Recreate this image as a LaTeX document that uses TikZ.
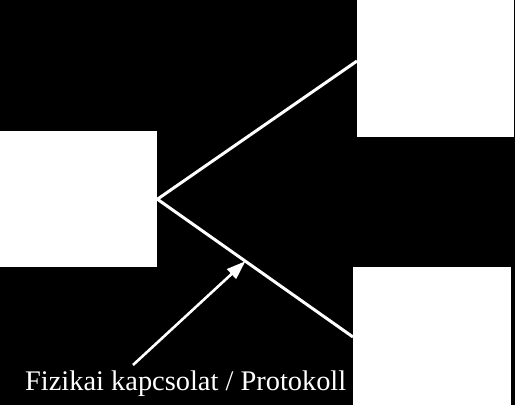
\documentclass[tikz,border=0pt]{standalone}
\usepackage{fontspec}
\setmainfont{Liberation Serif}
\usetikzlibrary{arrows.meta,calc}
\begin{document}
\begin{tikzpicture}[x=1pt,y=-1pt,
  box/.style={fill=white,draw=none,inner sep=0pt,anchor=north west},
  link/.style={draw=white,line width=3pt},
  pointer/.style={draw=white,line width=2.6pt,-{Triangle[length=19pt,width=13pt]}}]
\fill[black] (0,0) rectangle (515,405);
\useasboundingbox (0,0) rectangle (515,405);
\node[box,minimum width=157pt,minimum height=136pt] (L) at (0,131) {};
\node[box,minimum width=157pt,minimum height=137pt] (TR) at (357,0) {};
\node[box,minimum width=158pt,minimum height=138pt] (BR) at (353,267) {};
\draw[link] (L.east) -- ($(TR.north west)+(0pt,-61pt)$);
\draw[link] (L.east) -- coordinate[pos=0.45] (hit) ($(BR.north west)+(0pt,-70pt)$);
\node[text=white,font=\fontsize{28.4}{32}\selectfont,inner sep=0pt,anchor=base west] (T) at (25,390) {Fizikai kapcsolat / Protokoll};
\coordinate (tail) at (133,365);
\draw[pointer] (tail) -- (hit);
\end{tikzpicture}
\end{document}
